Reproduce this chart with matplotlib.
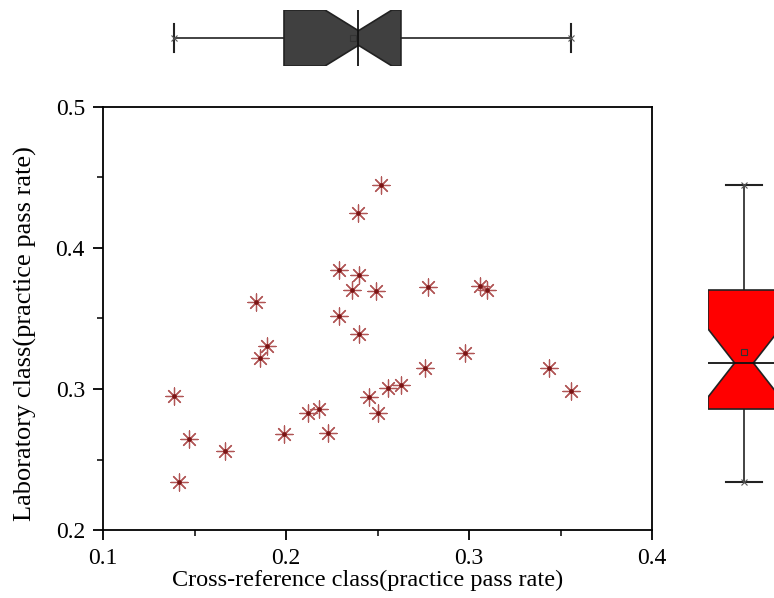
import numpy as np
import matplotlib
matplotlib.use("Agg")
import matplotlib.pyplot as plt
from matplotlib.patches import Polygon

# practice pass rates
cross_ref = [0.1388, 0.1415, 0.1470, 0.1667, 0.1836, 0.1858, 0.1896, 0.1989,
             0.2120, 0.2180, 0.2230, 0.2290, 0.2290, 0.2361, 0.2393, 0.2399,
             0.2399, 0.2454, 0.2492, 0.2503, 0.2519, 0.2557, 0.2628, 0.2760,
             0.2776, 0.2978, 0.3060, 0.3098, 0.3437, 0.3557]
laboratory = [0.2950, 0.2340, 0.2645, 0.2560, 0.3617, 0.3220, 0.3305, 0.2681,
              0.2830, 0.2858, 0.2688, 0.3844, 0.3518, 0.3702, 0.4248, 0.3809,
              0.3390, 0.2943, 0.3695, 0.2830, 0.4447, 0.3007, 0.3028, 0.3149,
              0.3723, 0.3255, 0.3730, 0.3702, 0.3149, 0.2986]

x_ticks = [0.1, 0.2, 0.3, 0.4]
y_ticks = [0.2, 0.3, 0.4, 0.5]

plt.rcParams['font.family'] = ['Liberation Serif', 'DejaVu Serif']


def notched_box(ax, values, color, vertical=False):
    v = np.asarray(values)
    q1 = np.percentile(v, 25, method='nearest')
    q3 = np.percentile(v, 75, method='nearest')
    med = np.median(v)
    lo, hi = v.min(), v.max()
    notch = 1.57 * (q3 - q1) / np.sqrt(len(v))
    h, nh = 0.5, 0.13

    def pt(val, pos):
        return (pos, val) if vertical else (val, pos)

    verts = [pt(q1, -h), pt(med - notch, -h), pt(med, -nh), pt(med + notch, -h),
             pt(q3, -h), pt(q3, h), pt(med + notch, h), pt(med, nh),
             pt(med - notch, h), pt(q1, h)]
    ax.add_patch(Polygon(verts, closed=True, facecolor=color,
                         edgecolor='#222222', lw=1.2, zorder=2))
    for a, b in [(lo, q1), (q3, hi)]:
        ax.plot(*zip(pt(a, 0), pt(b, 0)), color='#222222', lw=1.2, zorder=1)
    for e in (lo, hi):
        ax.plot(*zip(pt(e, -0.25), pt(e, 0.25)), color='#222222', lw=1.5)
        ax.plot(*pt(e, 0), marker='x', ms=4, color='#555555', mew=0.8)
    ax.plot(*zip(pt(med, -h), pt(med, h)), color='#111111', lw=1.3, zorder=3)
    ax.plot(*pt(v.mean(), 0), marker='s', ms=4, mfc='none', mec='#333333',
            mew=0.8, zorder=4)


fig = plt.figure(figsize=(7.74, 5.98), dpi=100)
ax = fig.add_axes([0.1331, 0.1137, 0.7093, 0.7074])
ax.scatter(cross_ref, laboratory, marker=(8, 2, 0), s=150, color='#B05555',
           linewidths=0.9, zorder=3)
ax.scatter(cross_ref, laboratory, marker='o', s=5, color='#7A1515', zorder=4)
ax.set_xlim(0.1, 0.4)
ax.set_ylim(0.2, 0.5)
ax.set_xticks(x_ticks)
ax.set_yticks(y_ticks)
ax.set_xticks(np.arange(0.15, 0.4, 0.1), minor=True)
ax.set_yticks(np.arange(0.25, 0.5, 0.1), minor=True)
ax.set_xticklabels([f'{t:.1f}' for t in x_ticks])
ax.set_yticklabels([f'{t:.1f}' for t in y_ticks])
ax.tick_params(which='major', direction='out', length=7, width=1.3,
               labelsize=17, pad=6)
ax.tick_params(which='minor', direction='out', length=4, width=1.1)
for s in ax.spines.values():
    s.set_linewidth(1.3)
ax.set_xlabel('Cross-reference class(practice pass rate)', fontsize=17.5)
ax.set_ylabel('Laboratory class(practice pass rate)', fontsize=19)
ax.xaxis.set_label_coords(0.482, -0.095)
ax.yaxis.set_label_coords(-0.12, 0.465)

# top box plot (x distribution)
ax_top = fig.add_axes([0.1331, (598 - 66) / 598, 0.7093, 56 / 598], sharex=ax)
notched_box(ax_top, cross_ref, '#404040')
ax_top.set_ylim(-0.5, 0.5)
ax_top.axis('off')

# right box plot (y distribution)
ax_right = fig.add_axes([708 / 774, 0.1137, 72 / 774, 0.7074], sharey=ax)
notched_box(ax_right, laboratory, '#FF0000', vertical=True)
ax_right.set_xlim(-0.5, 0.5)
ax_right.axis('off')

fig.savefig('out.png', dpi=100)
